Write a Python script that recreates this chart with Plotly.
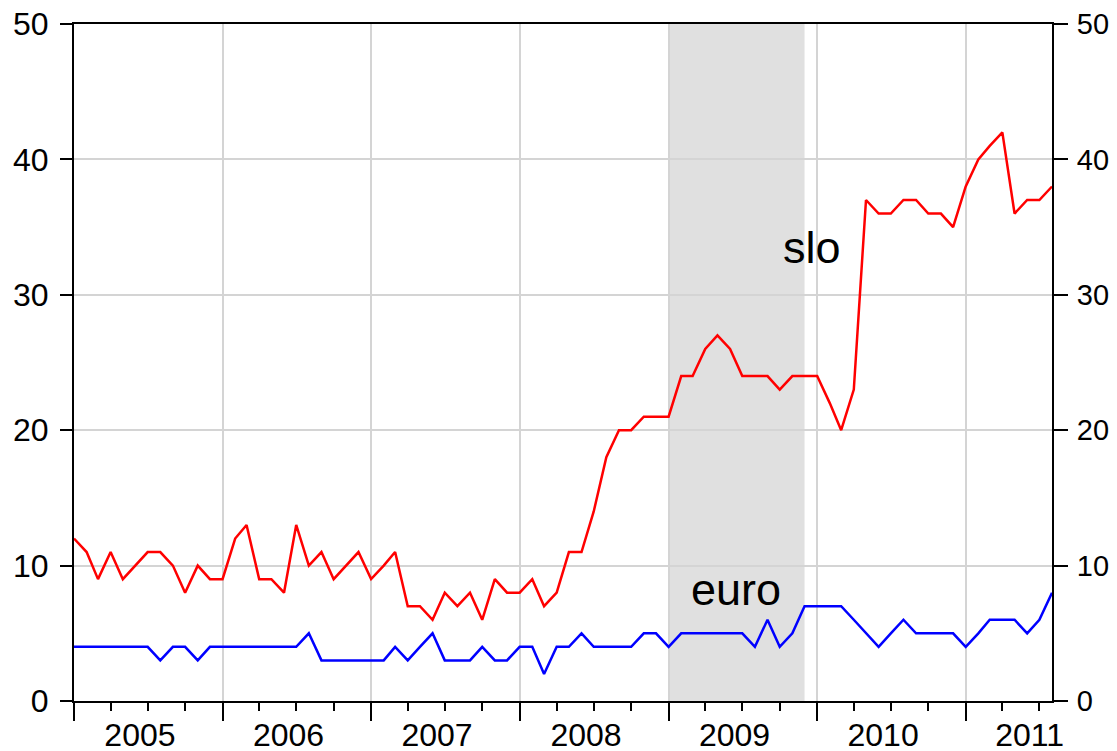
import pandas as pd
import plotly.graph_objects as go

months = pd.date_range("2005-01-01", periods=80, freq="MS")

slo = [
    12, 11, 9, 11, 9, 10, 11, 11, 10, 8, 10, 9,      # 2005
    9, 12, 13, 9, 9, 8, 13, 10, 11, 9, 10, 11,       # 2006
    9, 10, 11, 7, 7, 6, 8, 7, 8, 6, 9, 8,            # 2007
    8, 9, 7, 8, 11, 11, 14, 18, 20, 20, 21, 21,      # 2008
    21, 24, 24, 26, 27, 26, 24, 24, 24, 23, 24, 24,  # 2009
    24, 22, 20, 23, 37, 36, 36, 37, 37, 36, 36, 35,  # 2010
    38, 40, 41, 42, 36, 37, 37, 38,                  # 2011
]
euro = [
    4, 4, 4, 4, 4, 4, 4, 3, 4, 4, 3, 4,
    4, 4, 4, 4, 4, 4, 4, 5, 3, 3, 3, 3,
    3, 3, 4, 3, 4, 5, 3, 3, 3, 4, 3, 3,
    4, 4, 2, 4, 4, 5, 4, 4, 4, 4, 5, 5,
    4, 5, 5, 5, 5, 5, 5, 4, 6, 4, 5, 7,
    7, 7, 7, 6, 5, 4, 5, 6, 5, 5, 5, 5,
    4, 5, 6, 6, 6, 5, 6, 8,
]
year_labels = ["2005", "2006", "2007", "2008", "2009", "2010", "2011"]
year_label_pos = ["2005-06-12", "2006-06-12", "2007-06-12", "2008-06-12",
                  "2009-06-12", "2010-06-12", "2011-06-07"]
shade_start, shade_end = "2009-01-01", "2009-12-01"
x_range = ["2005-01-01", "2011-08-01"]
y_ticks = [0, 10, 20, 30, 40, 50]

FONT = "Liberation Sans, Arial, sans-serif"

fig = go.Figure()
fig.add_trace(go.Scatter(x=months, y=slo, mode="lines", name="slo",
                         line=dict(color="#ff0000", width=2.5)))
fig.add_trace(go.Scatter(x=months, y=euro, mode="lines", name="euro",
                         line=dict(color="#0000ff", width=2.5)))
# empty helper trace so the secondary (label / right) axes are drawn
fig.add_trace(go.Scatter(x=[months[0]], y=[None], xaxis="x2", yaxis="y2",
                         mode="lines", showlegend=False, hoverinfo="skip"))

fig.add_vrect(x0=shade_start, x1=shade_end, fillcolor="#e0e0e0",
              line_width=0, layer="below")

fig.add_annotation(x="2009-12-20", y=33.5, xref="x", yref="y", text="slo",
                   showarrow=False, font=dict(size=45, color="black", family=FONT))
fig.add_annotation(x="2009-06-15", y=8.2, xref="x", yref="y", text="euro",
                   showarrow=False, font=dict(size=45, color="black", family=FONT))

fig.update_layout(
    width=1109, height=743,
    margin=dict(l=66, r=65, t=16, b=50, autoexpand=False),
    paper_bgcolor="white", plot_bgcolor="white",
    showlegend=False,
    font=dict(family=FONT, size=32, color="black"),
    xaxis=dict(
        type="date", range=x_range, automargin=False,
        tick0="2005-01-01", dtick="M12",
        ticks="outside", ticklen=18, tickwidth=2, tickcolor="black",
        showticklabels=False,
        showgrid=True, gridcolor="#d4d4d4", gridwidth=2,
        showline=True, linecolor="black", linewidth=2, mirror=True,
        zeroline=False,
        minor=dict(tick0="2005-01-01", dtick="M3", ticks="outside",
                   ticklen=8, tickwidth=1.5, tickcolor="black", showgrid=False),
    ),
    xaxis2=dict(
        type="date", range=x_range, overlaying="x", anchor="y", side="bottom",
        automargin=False, ticklabeloverflow="allow",
        tickmode="array", tickvals=year_label_pos, ticktext=year_labels,
        ticks="", showgrid=False, showline=False, zeroline=False,
        tickfont=dict(size=32, family=FONT), ticklabelstandoff=12,
    ),
    yaxis=dict(
        range=[0, 50], tickvals=y_ticks, automargin=False,
        ticklabeloverflow="allow",
        ticks="outside", ticklen=12, tickwidth=1.5, tickcolor="black",
        showgrid=True, gridcolor="#d4d4d4", gridwidth=2,
        showline=True, linecolor="black", linewidth=2,
        zeroline=False, tickfont=dict(size=32, family=FONT),
        ticklabelstandoff=5,
    ),
    yaxis2=dict(
        range=[0, 50], tickvals=y_ticks, overlaying="y", side="right",
        anchor="x", automargin=False, ticklabeloverflow="allow",
        ticks="outside", ticklen=14, tickwidth=1.5, tickcolor="black",
        showgrid=False, showline=True, linecolor="black", linewidth=2,
        zeroline=False, tickfont=dict(size=29, family=FONT),
        ticklabelstandoff=3,
    ),
)

fig.write_html("out.html")
